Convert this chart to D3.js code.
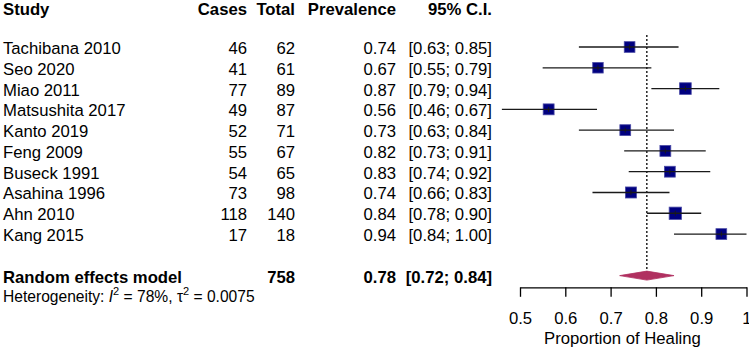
<!DOCTYPE html>
<html>
<head>
<meta charset="utf-8">
<script src="https://cdn.jsdelivr.net/npm/d3@7"></script>
<style>
  body { margin: 0; background: #fff; }
  svg text { font-family: "Liberation Sans", Arial, sans-serif; fill: #000; }
</style>
</head>
<body>
<script>
// study data
const studies = ['Tachibana 2010', 'Seo 2020', 'Miao 2011', 'Matsushita 2017', 'Kanto 2019',
  'Feng 2009', 'Buseck 1991', 'Asahina 1996', 'Ahn 2010', 'Kang 2015'];
const cases = [46, 41, 77, 49, 52, 55, 54, 73, 118, 17];
const totals = [62, 61, 89, 87, 71, 67, 65, 98, 140, 18];
const ciLower = [0.63, 0.55, 0.79, 0.46, 0.63, 0.73, 0.74, 0.66, 0.78, 0.84];
const ciUpper = [0.85, 0.79, 0.94, 0.67, 0.84, 0.91, 0.92, 0.83, 0.90, 1.00];
const weights = [9.2, 8.9, 10.9, 9.6, 9.4, 9.5, 9.5, 9.8, 12.2, 9.3]; // random effects %

// pooled estimate
const pooled = { label: 'Random effects model', total: 758, est: 0.78, lo: 0.72, hi: 0.84 };
const hetI2 = '78%', hetTau2 = '0.0075';

const tickValues = [0.5, 0.6, 0.7, 0.8, 0.9, 1];
const xLabel = 'Proportion of Healing';

const width = 749, height = 350;
const fs = 16.7;

const svg = d3.select('body').append('svg')
  .attr('width', width)
  .attr('height', height);

const x = d3.scaleLinear().domain([0.5, 1]).range([520, 746.5]);
const y = d3.scaleLinear().domain([0, 12]).range([47, 296.4]);
const size = d3.scaleSqrt().domain([0, d3.max(weights)]).range([0, 12.3]);

const fmt = d3.format('.2f');

// column layout
const cols = { study: 3, cases: 247, total: 295, prev: 396, ci: 492 };

// header
const header = svg.append('g').attr('font-size', fs).attr('font-weight', 'bold');
[['Study', cols.study, 'start'], ['Cases', cols.cases, 'end'], ['Total', cols.total, 'end'],
 ['Prevalence', cols.prev, 'end'], ['95% C.I.', cols.ci, 'end']].forEach(h => {
  header.append('text')
    .attr('x', h[1]).attr('y', 14.5)
    .attr('text-anchor', h[2])
    .text(h[0]);
});

// study rows
const data = studies.map((s, i) => ({
  study: s, cases: cases[i], total: totals[i], p: cases[i] / totals[i],
  lo: ciLower[i], hi: ciUpper[i], w: weights[i], row: i
}));

const rows = svg.append('g').attr('font-size', fs);
data.forEach(d => {
  const ty = y(d.row) + 7;
  rows.append('text').attr('x', cols.study).attr('y', ty).text(d.study);
  rows.append('text').attr('x', cols.cases).attr('y', ty).attr('text-anchor', 'end').text(d.cases);
  rows.append('text').attr('x', cols.total).attr('y', ty).attr('text-anchor', 'end').text(d.total);
  rows.append('text').attr('x', cols.prev).attr('y', ty).attr('text-anchor', 'end').text(fmt(d.p));
  rows.append('text').attr('x', cols.ci).attr('y', ty).attr('text-anchor', 'end')
    .text('[' + fmt(d.lo) + '; ' + fmt(d.hi) + ']');
});

// pooled row text
const pr = svg.append('g').attr('font-size', fs).attr('font-weight', 'bold');
const py = y(11) + 7;
pr.append('text').attr('x', cols.study).attr('y', py).text(pooled.label);
pr.append('text').attr('x', cols.total).attr('y', py).attr('text-anchor', 'end').text(pooled.total);
pr.append('text').attr('x', cols.prev).attr('y', py).attr('text-anchor', 'end').text(fmt(pooled.est));
pr.append('text').attr('x', cols.ci).attr('y', py).attr('text-anchor', 'end')
  .text('[' + fmt(pooled.lo) + '; ' + fmt(pooled.hi) + ']');

// heterogeneity line
const het = svg.append('text')
  .attr('x', cols.study).attr('y', y(12) + 6)
  .attr('font-size', 15.6);
het.append('tspan').text('Heterogeneity: ');
het.append('tspan').attr('font-style', 'italic').text('I');
het.append('tspan').attr('font-size', 11).attr('dy', -7).text('2');
het.append('tspan').attr('dy', 7).text(' = ' + hetI2 + ', \u03c4');
het.append('tspan').attr('font-size', 11).attr('dy', -7).text('2');
het.append('tspan').attr('dy', 7).text(' = ' + hetTau2);

// reference line at pooled estimate
svg.append('line')
  .attr('x1', x(pooled.est)).attr('x2', x(pooled.est))
  .attr('y1', y(0) - 12).attr('y2', y(11))
  .attr('stroke', '#000')
  .attr('stroke-width', 1.3)
  .attr('stroke-dasharray', '2,2');

// squares + CI lines
const marks = svg.append('g');
data.forEach(d => {
  const cy = y(d.row), s = size(d.w);
  marks.append('rect')
    .attr('x', x(d.p) - s / 2).attr('y', cy - s / 2)
    .attr('width', s).attr('height', s)
    .attr('fill', '#000080')
    .attr('stroke', '#4a4aa6')
    .attr('stroke-width', 0.8);
  marks.append('line')
    .attr('x1', x(d.lo)).attr('x2', x(d.hi))
    .attr('y1', cy).attr('y2', cy)
    .attr('stroke', '#1a1a1a')
    .attr('stroke-width', 1.3);
  marks.append('line')
    .attr('x1', x(d.p)).attr('x2', x(d.p))
    .attr('y1', cy - 2.5).attr('y2', cy + 2.5)
    .attr('stroke', '#1a1a1a')
    .attr('stroke-width', 1);
});

// diamond
const dy0 = y(11);
svg.append('polygon')
  .attr('points', [
    [x(pooled.lo), dy0], [x(pooled.est), dy0 - 4.5],
    [x(pooled.hi), dy0], [x(pooled.est), dy0 + 4.5]
  ].map(p => p.join(',')).join(' '))
  .attr('fill', '#b03060')
  .attr('stroke', '#b03060')
  .attr('stroke-width', 0.8);

// x axis
const axis = svg.append('g')
  .attr('transform', 'translate(0,287.3)')
  .call(d3.axisBottom(x)
    .tickValues(tickValues)
    .tickFormat(d => String(d))
    .tickSize(9.5)
    .tickSizeOuter(0)
    .tickPadding(15));
axis.selectAll('path, line').attr('stroke', '#000').attr('stroke-width', 1.3);
axis.selectAll('text')
  .attr('font-size', fs)
  .attr('font-family', '"Liberation Sans", Arial, sans-serif')
  .attr('fill', '#000');

svg.append('text')
  .attr('x', 622.5).attr('y', 344)
  .attr('text-anchor', 'middle')
  .attr('font-size', fs)
  .text(xLabel);
</script>
</body>
</html>
